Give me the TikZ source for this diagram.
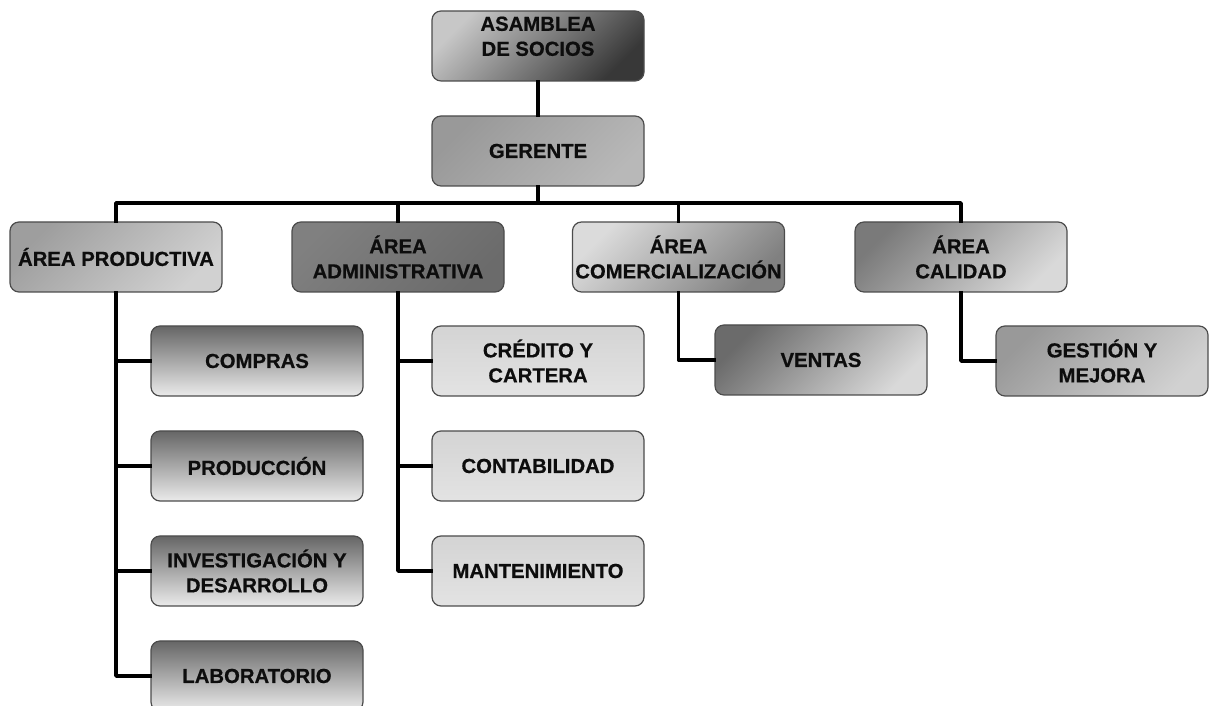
\documentclass[tikz,border=0pt]{standalone}
\usepackage{fontspec}
\setmainfont{Liberation Sans}[BoldFeatures={FakeBold=0.6}]
\begin{document}
\begin{tikzpicture}[x=1pt,y=1pt,line join=round,font=\fontsize{20.3}{25}\selectfont\bfseries,
    box/.style={draw=black!70,line width=1.2pt,rounded corners=9pt,minimum width=212pt,
        minimum height=70pt,inner sep=0pt,align=center,text=black!95},
    diag/.style 2 args={box,top color=#1,bottom color=#2,shading angle=45},
    vert/.style={box,top color=black!60,bottom color=black!8},
    flat/.style={box,top color=black!17,bottom color=black!11},
    link/.style={line width=3.5pt,line cap=rect}]
    \useasboundingbox (0,0) rectangle (1209,706);
    % direccion
    \node[diag={black!22}{black!78}] (asamblea) at (538,660)
        {\raisebox{2.5pt}[0pt][0pt]{\begin{tabular}{@{}c@{}}ASAMBLEA\\DE SOCIOS\end{tabular}}};
    \node[diag={black!40}{black!28}] (gerente) at (538,555) {GERENTE};
    \coordinate (bar) at (538,503);
    % areas
    \node[diag={black!38}{black!18}] (prod) at (116,449) {ÁREA PRODUCTIVA};
    \node[diag={black!50}{black!58}] (admin) at (398,449) {ÁREA\\ADMINISTRATIVA};
    \node[diag={black!14}{black!50}] (comer) at (678.5,449) {ÁREA\\COMERCIALIZACIÓN};
    \node[diag={black!52}{black!15}] (calidad) at (961,449) {ÁREA\\CALIDAD};
    % dependencias
    \node[vert] (compras) at (257,345) {COMPRAS};
    \node[vert] (produccion) at (257,240) {PRODUCCIÓN};
    \node[vert] (invest) at (257,135) {INVESTIGACIÓN Y\\DESARROLLO};
    \node[vert] (lab) at (257,30) {LABORATORIO};
    \node[flat] (credito) at (538,345) {CRÉDITO Y\\CARTERA};
    \node[flat] (contab) at (538,240) {CONTABILIDAD};
    \node[flat] (mant) at (538,135) {MANTENIMIENTO};
    \node[diag={black!58}{black!15}] (ventas) at (821,346) {VENTAS};
    \node[diag={black!40}{black!18}] (gestion) at (1102,345) {GESTIÓN Y\\MEJORA};
    % conectores
    \draw[link]
    (asamblea) -- (gerente)
    (gerente) -- (bar)
    (prod.north) |- (bar) -| (calidad.north)
    (admin.north) -- (admin |- bar)
    (comer.north) -- (comer |- bar)
    ;
    \draw[link]
    (prod.south) |- (compras.west)
    (prod.south) |- (produccion.west)
    (prod.south) |- (invest.west)
    (prod.south) |- (lab.west)
    (admin.south) |- (credito.west)
    (admin.south) |- (contab.west)
    (admin.south) |- (mant.west)
    (comer.south) |- (ventas.west)
    (calidad.south) |- (gestion.west)
    ;
\end{tikzpicture}
\end{document}
